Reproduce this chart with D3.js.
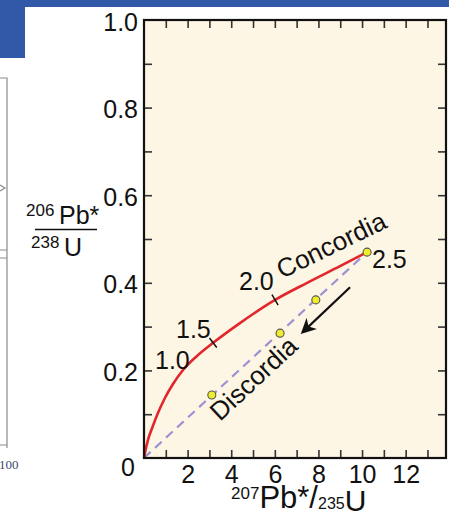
<!DOCTYPE html>
<html><head><meta charset="utf-8">
<script src="https://cdn.jsdelivr.net/npm/d3@7"></script>
<style>
html,body{margin:0;padding:0;background:#fff;}
svg{display:block;font-family:"Liberation Sans",Arial,Helvetica,sans-serif;}
</style></head>
<body>
<script>
// ---- data ----
const xTickValues = [1,2,3,4,5,6,7,8,9,10,11,12,13];
const xTickLabels = [2,4,6,8,10,12];
const yTickValues = [0.1,0.2,0.3,0.4,0.5,0.6,0.7,0.8,0.9];
const yTickLabels = [0,0.2,0.4,0.6,0.8,1.0];

// concordia curve (207Pb*/235U, 206Pb*/238U)
const concordiaX = [0, 0.07, 0.18, 0.37, 0.60, 0.96, 1.33, 1.79, 2.43, 3.17, 4.40, 6.01, 7.48, 8.99, 10.23];
const concordiaY = [0, 0.018, 0.041, 0.068, 0.098, 0.137, 0.169, 0.201, 0.233, 0.263, 0.308, 0.361, 0.400, 0.438, 0.470];

// age marks on concordia (Ga)
const ageLabels = ["1.0","1.5","2.0","2.5"];
const ageTickX = [3.17, 6.01];
const ageTickY = [0.263, 0.361];

// discordia line & samples
const discordiaX = [0, 10.23];
const discordiaY = [0, 0.470];
const sampleX = [3.11, 6.24, 7.88, 10.23];
const sampleY = [0.144, 0.285, 0.361, 0.470];

// arrow (Pb loss direction)
const arrowX = [9.45, 7.29];
const arrowY = [0.390, 0.288];

// ---- layout ----
const W = 449, H = 514;
const margin = {left:144, top:20, right:3, bottom:56};
const pw = W - margin.left - margin.right, ph = H - margin.top - margin.bottom;

const svg = d3.select("body").append("svg").attr("width", W).attr("height", H);

// decorative background pieces from the slide
svg.append("rect").attr("x",0).attr("y",0).attr("width",W).attr("height",7).attr("fill","#3159a8");
svg.append("rect").attr("x",0).attr("y",0).attr("width",25).attr("height",58).attr("fill","#3159a8");
const deco = svg.append("g").attr("stroke","#8a8a8a").attr("stroke-width",1.2).attr("fill","none");
deco.append("path").attr("d","M0,78H7V448");
deco.append("path").attr("d","M0,250H7M0,258H7M0,445H7");
deco.append("path").attr("d","M0,185L5,188L0,191");
svg.append("text").attr("x",-1).attr("y",469).attr("font-family","'Liberation Serif',serif")
  .attr("font-size",13).attr("fill","#3b4a66").text("100");

const x = d3.scaleLinear().domain([0,13.85]).range([0,pw]);
const y = d3.scaleLinear().domain([0,1]).range([ph,0]);

const g = svg.append("g").attr("transform",`translate(${margin.left},${margin.top})`);

g.append("rect").attr("width",pw).attr("height",ph).attr("fill","#fdf6e4");

// ticks (inward on all sides)
function tickAxis(axis){ return axis.tickSize(-8).tickFormat(""); }
const tickStyle = sel => { sel.select(".domain").remove(); sel.selectAll("line").attr("stroke","#333").attr("stroke-width",1.6); };
g.append("g").attr("transform",`translate(0,${ph})`).call(tickAxis(d3.axisBottom(x).tickValues(xTickValues))).call(tickStyle);
g.append("g").call(tickAxis(d3.axisTop(x).tickValues(xTickValues))).call(tickStyle);
g.append("g").call(tickAxis(d3.axisLeft(y).tickValues(yTickValues))).call(tickStyle);
g.append("g").attr("transform",`translate(${pw},0)`).call(tickAxis(d3.axisRight(y).tickValues(yTickValues))).call(tickStyle);

// labels
const xl = g.append("g").attr("transform",`translate(0,${ph})`)
  .call(d3.axisBottom(x).tickValues(xTickLabels).tickSize(0).tickPadding(7));
xl.select(".domain").remove();
xl.selectAll("text").attr("font-size",25).attr("font-family","'Liberation Sans',Arial,sans-serif").attr("fill","#111");

const yl = g.append("g")
  .call(d3.axisLeft(y).tickValues(yTickLabels).tickSize(0).tickPadding(6)
    .tickFormat(d => d === 0 ? "0" : d3.format(".1f")(d)));
yl.select(".domain").remove();
yl.selectAll("text").attr("font-size",25).attr("font-family","'Liberation Sans',Arial,sans-serif").attr("fill","#111")
  .attr("dy","0.4em");
yl.selectAll(".tick").filter(d => d === 0).select("text").attr("transform","translate(-3,7)");

// discordia
g.append("line")
  .attr("x1",x(discordiaX[0])).attr("y1",y(discordiaY[0]))
  .attr("x2",x(discordiaX[1])).attr("y2",y(discordiaY[1]))
  .attr("stroke","#9c92d2").attr("stroke-width",2.2).attr("stroke-dasharray","9,6");

// concordia
const cpts = concordiaX.map((v,i)=>[x(v), y(concordiaY[i])]);
g.append("path").attr("d", d3.line().curve(d3.curveMonotoneX)(cpts))
  .attr("fill","none").attr("stroke","#e3262b").attr("stroke-width",2.6);

// age ticks perpendicular to curve
ageTickX.forEach((ax,i)=>{
  const px = x(ax), py = y(ageTickY[i]);
  let k = concordiaX.findIndex(v=>v>=ax);
  const a = cpts[Math.max(0,k-1)], b = cpts[Math.min(cpts.length-1,k+1)];
  const dx = b[0]-a[0], dy = b[1]-a[1], L = Math.hypot(dx,dy);
  const nx = -dy/L, ny = dx/L, h = 6;
  g.append("line").attr("x1",px-nx*h).attr("y1",py-ny*h).attr("x2",px+nx*h).attr("y2",py+ny*h)
    .attr("stroke","#111").attr("stroke-width",1.5);
});

// samples
g.selectAll("circle.s").data(sampleX).join("circle").attr("class","s")
  .attr("cx",d=>x(d)).attr("cy",(d,i)=>y(sampleY[i])).attr("r",4)
  .attr("fill","#eeee2e").attr("stroke","#555").attr("stroke-width",1.1);

// arrow
const defs = svg.append("defs");
defs.append("marker").attr("id","ah").attr("viewBox","0 0 10 10").attr("refX",8).attr("refY",5)
  .attr("markerWidth",7).attr("markerHeight",7).attr("orient","auto")
  .append("path").attr("d","M0,0L10,5L0,10L3,5Z").attr("fill","#111");
g.append("line").attr("x1",x(arrowX[0])).attr("y1",y(arrowY[0])).attr("x2",x(arrowX[1])).attr("y2",y(arrowY[1]))
  .attr("stroke","#111").attr("stroke-width",2.2).attr("marker-end","url(#ah)");

// frame
g.append("rect").attr("width",pw).attr("height",ph).attr("fill","none").attr("stroke","#111").attr("stroke-width",2.2);

// annotations (absolute page coords)
const ann = svg.append("g").attr("font-size",25).attr("fill","#111");
ann.append("text").attr("x",155).attr("y",369).text(ageLabels[0]);
ann.append("text").attr("x",176).attr("y",338).text(ageLabels[1]);
ann.append("text").attr("x",239).attr("y",290).text(ageLabels[2]);
ann.append("text").attr("x",372).attr("y",268).text(ageLabels[3]);
ann.append("text").attr("font-size",26).attr("transform","translate(282,279) rotate(-26)").text("Concordia");
ann.append("text").attr("font-size",26).attr("transform","translate(220,422) rotate(-43)").text("Discordia");

// axis titles
const yt = svg.append("g").attr("fill","#111");
yt.append("text").attr("x",26).attr("y",216).attr("font-size",17).text("206");
yt.append("text").attr("x",59).attr("y",224).attr("font-size",25).text("Pb*");
yt.append("line").attr("x1",35).attr("x2",97).attr("y1",229.5).attr("y2",229.5).attr("stroke","#111").attr("stroke-width",1.6);
yt.append("text").attr("x",31).attr("y",248).attr("font-size",17).text("238");
yt.append("text").attr("x",64).attr("y",256).attr("font-size",25).text("U");

const xt = svg.append("text").attr("fill","#111").attr("x",231).attr("y",508);
xt.append("tspan").attr("font-size",17).attr("dy",-9).text("207");
xt.append("tspan").attr("font-size",31).attr("dy",9).text("Pb*/");
xt.append("tspan").attr("font-size",16).attr("dy",1).text("235");
xt.append("tspan").attr("font-size",30).attr("dy",2).text("U");
</script>
</body></html>
